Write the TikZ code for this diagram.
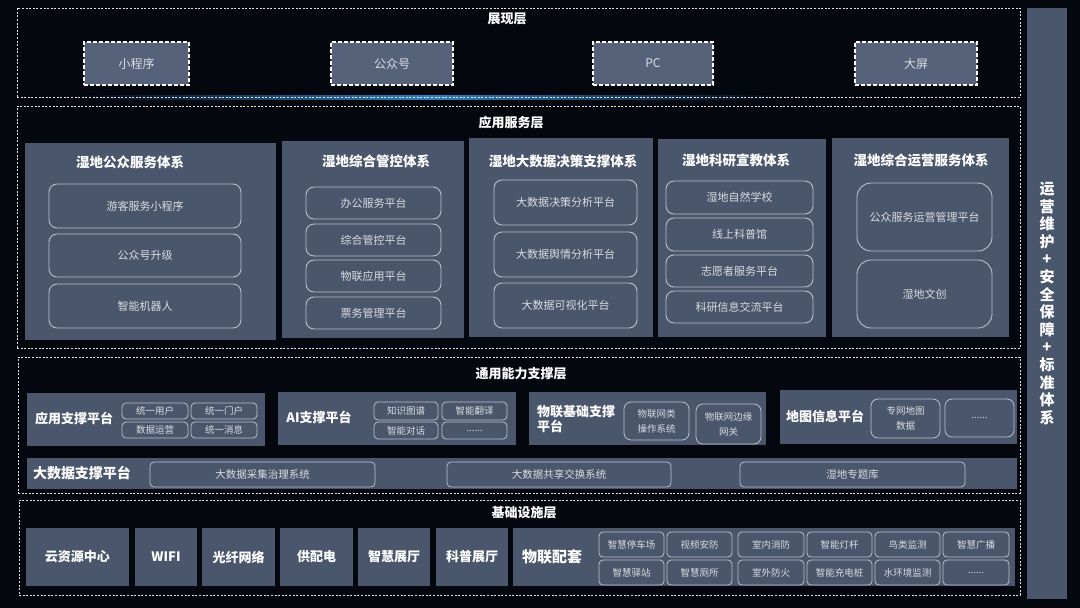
\documentclass[tikz,border=0pt]{standalone}
\usepackage{fontspec}
\setmainfont{Noto Sans CJK SC}
\usetikzlibrary{shapes.misc}
\definecolor{bgc}{HTML}{05070F}
\definecolor{panelc}{HTML}{4A566B}
\definecolor{topc}{HTML}{56627A}
\definecolor{linec}{HTML}{BAC1CD}
\definecolor{txtc}{HTML}{DADDE3}
\definecolor{glowc}{HTML}{2F7FC0}
\newcommand\bx[7]{\node[#6, minimum width={(#4-#2)*1pt}, minimum height={(#5-#3)*1pt}, inner sep=0pt] (#1) at ({(#2+#4)/2},{(#3+#5)/2}) {#7};}
\tikzset{
  layerbox/.style={draw=white!80!gray, line width=0.7pt, dash pattern=on 2pt off 1.6pt},
  layertitle/.style={text=white, font=\fontsize{13}{15}\selectfont\bfseries, inner sep=0pt},
  topbox/.style={fill=topc, draw=white, line width=1.6pt, dash pattern=on 4pt off 2pt, text=txtc, font=\fontsize{12}{14}\selectfont},
  panel/.style={fill=panelc, draw=none},
  ptitle/.style={text=white, font=\fontsize{13.5}{16}\selectfont\bfseries, inner sep=0pt},
  ibox/.style={draw=linec, line width=0.9pt, rounded corners=8pt, text=txtc, font=\fontsize{11}{13}\selectfont},
  sbox/.style={draw=linec, line width=0.8pt, rounded corners=4pt, text=txtc, font=\fontsize{9.5}{12}\selectfont, align=center},
  btitle/.style={text=white, font=\fontsize{13}{15.5}\selectfont\bfseries, inner sep=0pt, align=left},
  infra/.style={fill=panelc, draw=none, text=white, font=\fontsize{13}{15}\selectfont\bfseries},
}
\begin{document}
\begin{tikzpicture}[x=1pt,y=-1pt]
\fill[bgc] (0,0) rectangle (1080,608);
\useasboundingbox (0,0) rectangle (1080,608);
% glow
\shade[left color=bgc, right color=bgc, middle color=glowc] (80,95) rectangle (780,99);
% right vertical bar
\bx{side}{1027}{8}{1067}{599}{panel}{}
\node[text=white, font=\fontsize{15}{17.6}\selectfont\bfseries, align=center, inner sep=0pt] (sidetxt) at (side.center) {运\\营\\维\\护\\+\\安\\全\\保\\障\\+\\标\\准\\体\\系};

% ===== Layer 1
\bx{L1}{17}{8}{1020}{97}{layerbox}{}
\node[layertitle] (L1t) at (507,19) {展现层};
\bx{t1}{84}{42}{189}{85}{topbox}{小程序}
\bx{t2}{331}{42}{453}{85}{topbox}{公众号}
\bx{t3}{593}{42}{713}{85}{topbox}{PC}
\bx{t4}{855}{42}{977}{85}{topbox}{大屏}

% ===== Layer 2
\bx{L2}{17}{106}{1020}{348}{layerbox}{}
\node[layertitle] (L2t) at (511,123) {应用服务层};
% panel 1
\bx{p1}{25}{143}{276}{340}{panel}{}
\node[ptitle] (p1t) at (130,162) {湿地公众服务体系};
\bx{p1a}{49}{184}{241}{228}{ibox}{游客服务小程序}
\bx{p1b}{49}{234}{241}{277}{ibox}{公众号升级}
\bx{p1c}{49}{284}{241}{328}{ibox}{智能机器人}
% panel 2
\bx{p2}{282}{141}{464}{338}{panel}{}
\node[ptitle] (p2t) at (376,161) {湿地综合管控体系};
\bx{p2a}{306}{187}{441}{219}{ibox}{办公服务平台}
\bx{p2b}{306}{224}{441}{256}{ibox}{综合管控平台}
\bx{p2c}{306}{260}{441}{292}{ibox}{物联应用平台}
\bx{p2d}{306}{297}{441}{329}{ibox}{票务管理平台}
% panel 3
\bx{p3}{469}{138}{653}{337}{panel}{}
\node[ptitle] (p3t) at (563,161) {湿地大数据决策支撑体系};
\bx{p3a}{494}{180}{637}{225}{ibox}{大数据决策分析平台}
\bx{p3b}{494}{232}{637}{277}{ibox}{大数据舆情分析平台}
\bx{p3c}{494}{283}{637}{328}{ibox}{大数据可视化平台}
% panel 4
\bx{p4}{658}{139}{826}{337}{panel}{}
\node[ptitle] (p4t) at (736,160) {湿地科研宣教体系};
\bx{p4a}{666}{181}{813}{214}{ibox}{湿地自然学校}
\bx{p4b}{666}{218}{813}{251}{ibox}{线上科普馆}
\bx{p4c}{666}{255}{813}{287}{ibox}{志愿者服务平台}
\bx{p4d}{666}{291}{813}{323}{ibox}{科研信息交流平台}
% panel 5
\bx{p5}{832}{138}{1009}{337}{panel}{}
\node[ptitle] (p5t) at (921,160) {湿地综合运营服务体系};
\bx{p5a}{857}{183}{992}{251}{ibox, rounded corners=14pt}{公众服务运营管理平台}
\bx{p5b}{857}{260}{992}{328}{ibox, rounded corners=14pt}{湿地文创}

% ===== Layer 3
\bx{L3}{18}{357}{1020}{493}{layerbox}{}
\node[layertitle] (L3t) at (521,374) {通用能力支撑层};
% 应用支撑平台
\bx{q1}{27}{393}{265}{446}{panel}{}
\node[btitle] (q1t) at (74,418) {应用支撑平台};
\bx{q1a}{122}{403}{188}{419}{sbox}{统一用户}
\bx{q1b}{191}{403}{257}{419}{sbox}{统一门户}
\bx{q1c}{122}{422}{188}{438}{sbox}{数据运营}
\bx{q1d}{191}{422}{257}{438}{sbox}{统一消息}
% AI
\bx{q2}{278}{392}{516}{445}{panel}{}
\node[btitle] (q2t) at (319,417) {AI支撑平台};
\bx{q2a}{374}{402}{438}{420}{sbox}{知识图谱}
\bx{q2b}{442}{402}{507}{420}{sbox}{智能翻译}
\bx{q2c}{374}{422}{438}{439}{sbox}{智能对话}
\bx{q2d}{442}{422}{507}{439}{sbox}{......}
% 物联基础支撑平台
\bx{q3}{529}{392}{766}{445}{panel}{}
\node[btitle, anchor=west] (q3t) at (537,419) {物联基础支撑\\平台};
\bx{q3a}{624}{402}{689}{440}{sbox, rounded corners=7pt, font=\fontsize{9.5}{15}\selectfont}{物联网类\\操作系统}
\bx{q3b}{696}{404}{761}{444}{sbox, rounded corners=7pt, font=\fontsize{9.5}{15}\selectfont}{物联网边缘\\网关}
% 地图信息平台
\bx{q4}{780}{390}{1017}{444}{panel}{}
\node[btitle] (q4t) at (825,416) {地图信息平台};
\bx{q4a}{871}{399}{940}{438}{sbox, rounded corners=7pt, font=\fontsize{9.5}{15}\selectfont}{专网地图\\数据}
\bx{q4b}{945}{399}{1014}{437}{sbox, rounded corners=7pt}{......}
% 大数据支撑平台
\bx{q5}{27}{458}{1017}{489}{panel}{}
\node[btitle, font=\fontsize{14}{16}\selectfont\bfseries] (q5t) at (82,473) {大数据支撑平台};
\bx{q5a}{150}{462}{375}{487}{sbox, font=\fontsize{10.5}{12}\selectfont}{大数据采集治理系统}
\bx{q5b}{447}{462}{671}{487}{sbox, font=\fontsize{10.5}{12}\selectfont}{大数据共享交换系统}
\bx{q5c}{740}{462}{965}{487}{sbox, font=\fontsize{10.5}{12}\selectfont}{湿地专题库}

% ===== Layer 4
\bx{L4}{19}{500}{1020}{595}{layerbox}{}
\node[layertitle] (L4t) at (524,513) {基础设施层};
\bx{r1}{26}{528}{129}{586}{infra}{云资源中心}
\bx{r2}{135}{528}{197}{586}{infra}{WIFI}
\bx{r3}{202}{528}{275}{586}{infra}{光纤网络}
\bx{r4}{280}{528}{353}{586}{infra}{供配电}
\bx{r5}{358}{528}{430}{586}{infra}{智慧展厅}
\bx{r6}{436}{528}{508}{586}{infra}{科普展厅}
\bx{r7}{513}{528}{1015}{586}{panel}{}
\node[btitle, font=\fontsize{15}{17}\selectfont\bfseries] (r7t) at (552,557) {物联配套};
\bx{s1}{599}{532}{664}{557}{sbox}{智慧停车场}
\bx{s2}{667}{532}{732}{557}{sbox}{视频安防}
\bx{s3}{738}{532}{804}{557}{sbox}{室内消防}
\bx{s4}{807}{532}{872}{557}{sbox}{智能灯杆}
\bx{s5}{875}{532}{940}{557}{sbox}{鸟类监测}
\bx{s6}{943}{532}{1009}{557}{sbox}{智慧广播}
\bx{s7}{599}{560}{664}{585}{sbox}{智慧驿站}
\bx{s8}{667}{560}{732}{585}{sbox}{智慧厕所}
\bx{s9}{738}{560}{804}{585}{sbox}{室外防火}
\bx{s10}{807}{560}{872}{585}{sbox}{智能充电桩}
\bx{s11}{875}{560}{940}{585}{sbox}{水环境监测}
\bx{s12}{943}{560}{1009}{585}{sbox}{......}
\end{tikzpicture}
\end{document}
